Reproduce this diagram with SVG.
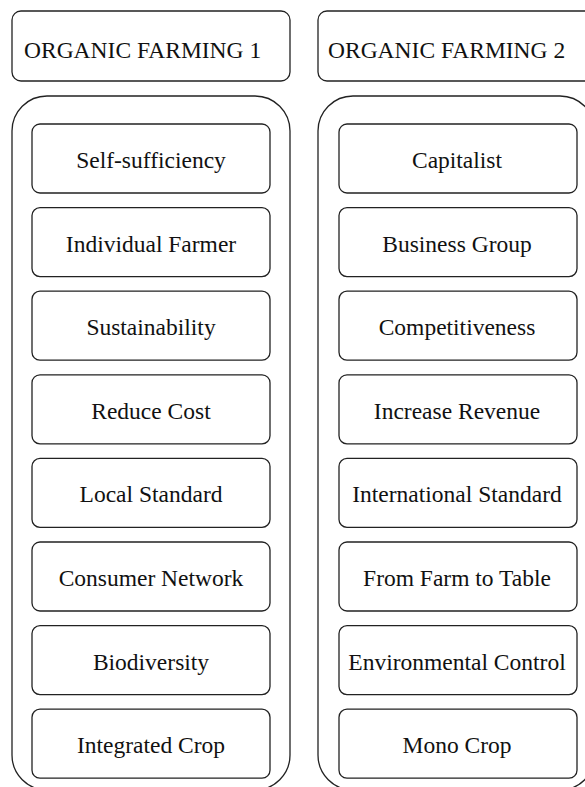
<svg xmlns="http://www.w3.org/2000/svg" width="585" height="787" viewBox="0 0 585 787">
<style>
.box{fill:#fff;stroke:#222;stroke-width:1.3}
.cont{fill:#fff;stroke:#222;stroke-width:1.3}
</style>
<rect width="585" height="787" fill="#fff"/>
<g id="header1"><rect class="box" x="12" y="11" width="278" height="70" rx="9"/><text x="24" y="58" font-family="Liberation Serif" font-size="23.5" fill="#111">ORGANIC FARMING 1</text></g>
<g id="header2"><rect class="box" x="318" y="11" width="278" height="70" rx="9"/><text x="328" y="58" font-family="Liberation Serif" font-size="23.5" fill="#111">ORGANIC FARMING 2</text></g>
<g id="container1"><rect class="cont" x="12" y="96" width="278" height="694" rx="35"/></g>
<g id="container2"><rect class="cont" x="318" y="96" width="277" height="694" rx="35"/></g>
<g id="connectors"/>
<g id="n1"><rect class="box" x="32" y="124" width="238" height="69" rx="8"/><text x="151" y="168" font-family="Liberation Serif" font-size="23.5" fill="#111" text-anchor="middle">Self-sufficiency</text></g>
<g id="n2"><rect class="box" x="32" y="207.6" width="238" height="69" rx="8"/><text x="151" y="251.6" font-family="Liberation Serif" font-size="23.5" fill="#111" text-anchor="middle">Individual Farmer</text></g>
<g id="n3"><rect class="box" x="32" y="291.2" width="238" height="69" rx="8"/><text x="151" y="335.2" font-family="Liberation Serif" font-size="23.5" fill="#111" text-anchor="middle">Sustainability</text></g>
<g id="n4"><rect class="box" x="32" y="374.8" width="238" height="69" rx="8"/><text x="151" y="418.8" font-family="Liberation Serif" font-size="23.5" fill="#111" text-anchor="middle">Reduce Cost</text></g>
<g id="n5"><rect class="box" x="32" y="458.4" width="238" height="69" rx="8"/><text x="151" y="502.4" font-family="Liberation Serif" font-size="23.5" fill="#111" text-anchor="middle">Local Standard</text></g>
<g id="n6"><rect class="box" x="32" y="542" width="238" height="69" rx="8"/><text x="151" y="586" font-family="Liberation Serif" font-size="23.5" fill="#111" text-anchor="middle">Consumer Network</text></g>
<g id="n7"><rect class="box" x="32" y="625.6" width="238" height="69" rx="8"/><text x="151" y="669.6" font-family="Liberation Serif" font-size="23.5" fill="#111" text-anchor="middle">Biodiversity</text></g>
<g id="n8"><rect class="box" x="32" y="709.2" width="238" height="69" rx="8"/><text x="151" y="753.2" font-family="Liberation Serif" font-size="23.5" fill="#111" text-anchor="middle">Integrated Crop</text></g>
<g id="m1"><rect class="box" x="339" y="124" width="238" height="69" rx="8"/><text x="457" y="168" font-family="Liberation Serif" font-size="23.5" fill="#111" text-anchor="middle">Capitalist</text></g>
<g id="m2"><rect class="box" x="339" y="207.6" width="238" height="69" rx="8"/><text x="457" y="251.6" font-family="Liberation Serif" font-size="23.5" fill="#111" text-anchor="middle">Business Group</text></g>
<g id="m3"><rect class="box" x="339" y="291.2" width="238" height="69" rx="8"/><text x="457" y="335.2" font-family="Liberation Serif" font-size="23.5" fill="#111" text-anchor="middle">Competitiveness</text></g>
<g id="m4"><rect class="box" x="339" y="374.8" width="238" height="69" rx="8"/><text x="457" y="418.8" font-family="Liberation Serif" font-size="23.5" fill="#111" text-anchor="middle">Increase Revenue</text></g>
<g id="m5"><rect class="box" x="339" y="458.4" width="238" height="69" rx="8"/><text x="457" y="502.4" font-family="Liberation Serif" font-size="23.5" fill="#111" text-anchor="middle">International Standard</text></g>
<g id="m6"><rect class="box" x="339" y="542" width="238" height="69" rx="8"/><text x="457" y="586" font-family="Liberation Serif" font-size="23.5" fill="#111" text-anchor="middle">From Farm to Table</text></g>
<g id="m7"><rect class="box" x="339" y="625.6" width="238" height="69" rx="8"/><text x="457" y="669.6" font-family="Liberation Serif" font-size="23.5" fill="#111" text-anchor="middle">Environmental Control</text></g>
<g id="m8"><rect class="box" x="339" y="709.2" width="238" height="69" rx="8"/><text x="457" y="753.2" font-family="Liberation Serif" font-size="23.5" fill="#111" text-anchor="middle">Mono Crop</text></g>
</svg>
